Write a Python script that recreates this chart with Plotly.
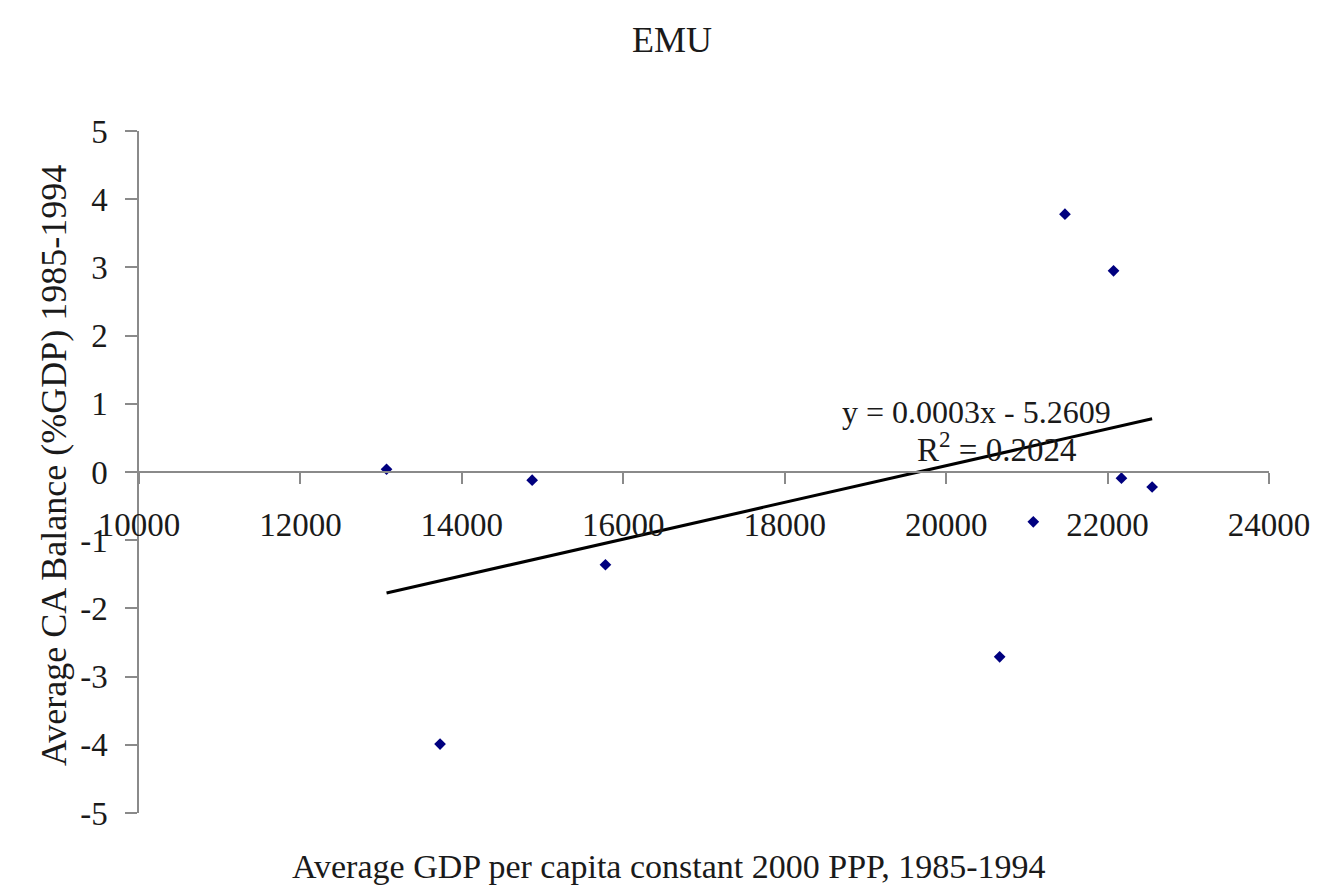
import numpy as np
import plotly.graph_objects as go

# Data
gdp_per_capita = [13067, 13730, 14871, 15779, 20663, 21080, 21472, 22074, 22172, 22552]
ca_balance = [0.04, -3.99, -0.12, -1.36, -2.71, -0.73, 3.78, 2.95, -0.09, -0.22]

x_tick_vals = [10000, 12000, 14000, 16000, 18000, 20000, 22000, 24000]
x_tick_text = ["10000", "12000", "14000", "16000", "18000", "20000", "22000", "24000"]
y_tick_vals = [-5, -4, -3, -2, -1, 0, 1, 2, 3, 4, 5]
y_tick_text = ["-5", "-4", "-3", "-2", "-1", "0", "1", "2", "3", "4", "5"]

title_text = "EMU"
x_title = "Average GDP per capita constant 2000 PPP, 1985-1994"
y_title = "Average CA Balance (%GDP) 1985-1994"
eq_text = "y = 0.0003x - 5.2609"
r2_text = "R<sup>2</sup> = 0.2024"

# Linear trendline (least squares) from data
xa = np.array(gdp_per_capita, dtype=float)
ya = np.array(ca_balance, dtype=float)
slope, intercept = np.polyfit(xa, ya, 1)
trend_x = [xa.min(), xa.max()]
trend_y = [slope * v + intercept for v in trend_x]

FONT = "Liberation Serif, Times New Roman, serif"
GRAY = "#8a8a8a"
TXT = "#1a1a1a"

fig = go.Figure()
fig.add_trace(go.Scatter(
    x=gdp_per_capita, y=ca_balance, mode="markers",
    marker=dict(symbol="diamond", size=9, color="#00007f"),
    showlegend=False, hoverinfo="x+y",
))
fig.add_trace(go.Scatter(
    x=trend_x, y=trend_y, mode="lines",
    line=dict(color="black", width=3),
    showlegend=False, hoverinfo="skip",
))

# page body has an 8px margin; figure sized to fit the 1330x895 window
fig.update_layout(
    width=1314, height=879,
    margin=dict(l=131, r=42, t=123, b=74),
    paper_bgcolor="white", plot_bgcolor="white",
    font=dict(family=FONT, color=TXT, size=30),
    xaxis=dict(
        range=[10000, 24000], tickvals=x_tick_vals, ticktext=x_tick_text,
        anchor="free", position=0.5,
        showline=True, linecolor=GRAY, linewidth=1.5,
        ticks="outside", ticklen=11, tickcolor=GRAY, tickwidth=1.5,
        showgrid=False, zeroline=False,
        tickfont=dict(family=FONT, size=33, color=TXT),
        ticklabelstandoff=13,
    ),
    yaxis=dict(
        range=[-5, 5], tickvals=y_tick_vals, ticktext=y_tick_text,
        domain=[0, 1],
        showline=True, linecolor=GRAY, linewidth=1.5,
        ticks="outside", ticklen=12, tickcolor=GRAY, tickwidth=1.5,
        showgrid=False, zeroline=False,
        tickfont=dict(family=FONT, size=33, color=TXT),
        ticklabelstandoff=11,
    ),
    annotations=[
        dict(text=title_text, xref="paper", yref="paper", x=0.472, y=1.1334,
             showarrow=False, xanchor="center", yanchor="middle",
             font=dict(family=FONT, size=36, color=TXT)),
        dict(text=x_title, xref="paper", yref="paper", x=0.469, y=-0.079,
             showarrow=False, xanchor="center", yanchor="middle",
             font=dict(family=FONT, size=34, color=TXT)),
        dict(text=y_title, xref="paper", yref="paper", x=-0.0754, y=0.51,
             showarrow=False, xanchor="center", yanchor="middle", textangle=-90,
             font=dict(family=FONT, size=36, color=TXT)),
        dict(text=eq_text, xref="x", yref="y", x=20380, y=0.88,
             showarrow=False, xanchor="center", yanchor="middle",
             font=dict(family=FONT, size=32, color=TXT)),
        dict(text=r2_text, xref="x", yref="y", x=20620, y=0.37,
             showarrow=False, xanchor="center", yanchor="middle",
             font=dict(family=FONT, size=33, color=TXT)),
    ],
)

fig.write_html("out.html")
